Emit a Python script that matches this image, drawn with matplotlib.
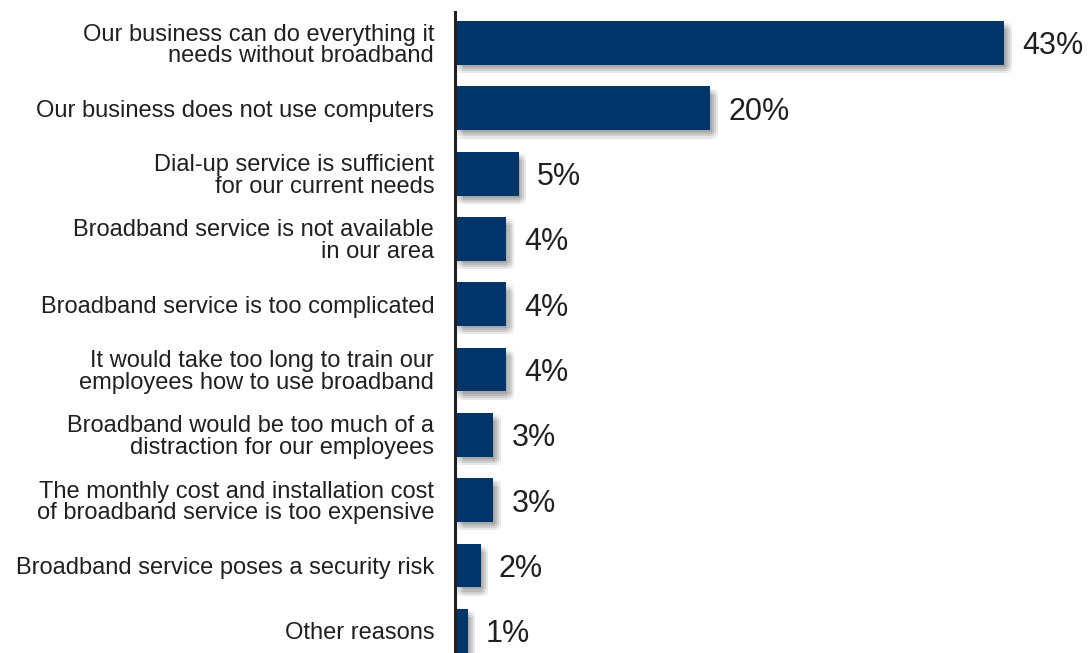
import matplotlib
matplotlib.use("Agg")
import matplotlib.pyplot as plt
import matplotlib.patheffects as pe

plt.rcParams['font.family'] = ['Liberation Sans', 'DejaVu Sans']

reasons = [
    "Our business can do everything it\nneeds without broadband",
    "Our business does not use computers",
    "Dial-up service is sufficient\nfor our current needs",
    "Broadband service is not available\nin our area",
    "Broadband service is too complicated",
    "It would take too long to train our\nemployees how to use broadband",
    "Broadband would be too much of a\ndistraction for our employees",
    "The monthly cost and installation cost\nof broadband service is too expensive",
    "Broadband service poses a security risk",
    "Other reasons",
]
shares = [43, 20, 5, 4, 4, 4, 3, 3, 2, 1]

navy = "#00356a"
ink = "#231f20"

fig = plt.figure(figsize=(10.91, 6.53), dpi=100)
ax = fig.add_axes([455 / 1091, 0, 636 / 1091, 641 / 653])

# soft drop shadow: many faint offset copies
shadow = [pe.SimplePatchShadow(offset=(dx, -dy), shadow_rgbFace="black", alpha=0.022)
          for dx in (1, 2.5, 4, 5.5) for dy in (1.5, 3, 4.5, 6)] + [pe.Normal()]

pos = list(range(len(shares)))
bars = ax.barh(pos, shares, height=0.67, color=navy, zorder=3)
for b in bars:
    b.set_path_effects(shadow)

for p, v in zip(pos, shares):
    ax.annotate(f"{v}%", (v, p), xytext=(13, -2.5), textcoords="offset points",
                va="center", ha="left", fontsize=22, color=ink)

ax.set_xlim(0, 49.8)
ax.set_ylim(9.34, -0.475)
ax.set_yticks(pos)
ax.set_yticklabels(reasons, fontsize=17, color=ink, linespacing=0.98)
ax.tick_params(axis="y", length=0, pad=15)
ax.set_xticks([])

for s in ("top", "right", "bottom"):
    ax.spines[s].set_visible(False)
ax.spines["left"].set_color(ink)
ax.spines["left"].set_linewidth(2.2)
ax.spines["left"].set_zorder(5)

fig.savefig("out.png", dpi=100)
